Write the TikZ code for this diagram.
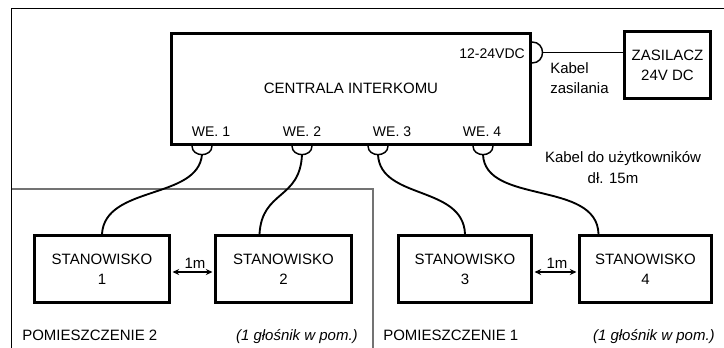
\documentclass[tikz,border=0pt]{standalone}
\usepackage{fontspec}
\setmainfont{Liberation Sans}
\usetikzlibrary{arrows.meta,calc}
\begin{document}
\begin{tikzpicture}[x=0.75pt,y=-0.75pt,
  box/.style={draw,line width=2.25pt,inner sep=0pt,align=center,font=\fontsize{11.25}{15}\selectfont},
  txt/.style={inner sep=0pt,font=\fontsize{11.25}{15}\selectfont},
  small/.style={inner sep=0pt,font=\fontsize{10.5}{13}\selectfont},
  cup/.style={line width=1.1pt},
  cable/.style={line width=1.4pt},
  pwr/.style={line width=1.1pt},
  dist/.style={line width=1.1pt,{Stealth[length=5pt,width=4.5pt]}-{Stealth[length=5pt,width=4.5pt]}},
  room/.style={line width=0.8pt,draw=black!55}
]
\useasboundingbox (0,0) rectangle (724,347);
\clip (0,0) rectangle (724,347);
\fill[white] (0,0) rectangle (724,347);

% outer frame (top and left visible)
\draw[line width=1.1pt] (11.5,360) -- (11.5,8.5) -- (740,8.5);
% room 2 boundary
\draw[room] (11.5,189) -- (373,189) -- (373,360);

% boxes
\node[box,minimum width=359*0.75pt,minimum height=111*0.75pt] (central) at (351,89) {};
\node[txt,anchor=base] (ctext) at (351,93.5) {CENTRALA INTERKOMU};
\node[box,minimum width=86*0.75pt,minimum height=67*0.75pt] (zas) at (667.5,65) {ZASILACZ\\24V DC};
\node[box,minimum width=135*0.75pt,minimum height=67*0.75pt] (st1) at (102,269) {STANOWISKO\\1};
\node[box,minimum width=136*0.75pt,minimum height=67*0.75pt] (st2) at (283.5,269) {STANOWISKO\\2};
\node[box,minimum width=133*0.75pt,minimum height=67*0.75pt] (st3) at (465,269) {STANOWISKO\\3};
\node[box,minimum width=132*0.75pt,minimum height=67*0.75pt] (st4) at (645.5,269) {STANOWISKO\\4};

% labels in central box
\node[small,anchor=base east] (vdc) at (525,58) {12-24VDC};
\node[small,anchor=base] (we1) at (211,136) {WE. 1};
\node[small,anchor=base] (we2) at (302,136) {WE. 2};
\node[small,anchor=base] (we3) at (392,136) {WE. 3};
\node[small,anchor=base] (we4) at (482,136) {WE. 4};

% power connector and cable
\coordinate (pc1) at (532,42);
\coordinate (pc2) at (532,63);
\coordinate (pcx) at (542.5,52.5);
\draw[cup] (pc1) .. controls (546,42) and (546,63) .. (pc2);
\draw[pwr] (pcx) -- (pcx -| zas.west);
\node[txt,anchor=base west] (kz1) at (550,73.5) {Kabel};
\node[txt,anchor=base west] (kz2) at (550,93.5) {zasilania};

% input connectors
\foreach \n/\x in {1/202,2/302,3/378,4/483}{
  \coordinate (c\n) at (\x,146);
  \coordinate (b\n) at (\x,154.5);
  \draw[cup] (\x-10,146) .. controls (\x-10,157.5) and (\x+10,157.5) .. (\x+10,146);
}

% user cables
\coordinate (a2) at ($(st2.north west)+(45.5,0)$);
\coordinate (a4) at ($(st4.north west)+(20.5,0)$);
\draw[cable] (b1) .. controls (198,200) and (105,185) .. (st1.north);
\draw[cable] (b2) .. controls (300,200) and (262,190) .. (a2);
\draw[cable] (b3) .. controls (380,200) and (463,185) .. (st3.north);
\draw[cable] (b4) .. controls (485,205) and (597,180) .. (a4);

\node[txt,anchor=base] (ku) at (623,162.5) {Kabel do użytkowników};
\node[txt,anchor=base] (dl) at (613,183.5) {dł. 15m};

% distances
\draw[dist] ($(st1.east)+(1.5,3)$) -- ($(st2.west)+(-1.5,3)$);
\node[txt,anchor=base] (m1) at (195,268.5) {1m};
\draw[dist] ($(st3.east)+(1.5,3)$) -- ($(st4.west)+(-1.5,3)$);
\node[txt,anchor=base] (m2) at (557,268.5) {1m};

% room labels
\node[txt,anchor=base west] (r2) at (22,340.5) {POMIESZCZENIE 2};
\node[txt,anchor=base east] (g2) at (358,340.5) {\itshape (1 głośnik w pom.)};
\node[txt,anchor=base west] (r1) at (383,340.5) {POMIESZCZENIE 1};
\node[txt,anchor=base east] (g1) at (715,340.5) {\itshape (1 głośnik w pom.)};
\end{tikzpicture}
\end{document}
